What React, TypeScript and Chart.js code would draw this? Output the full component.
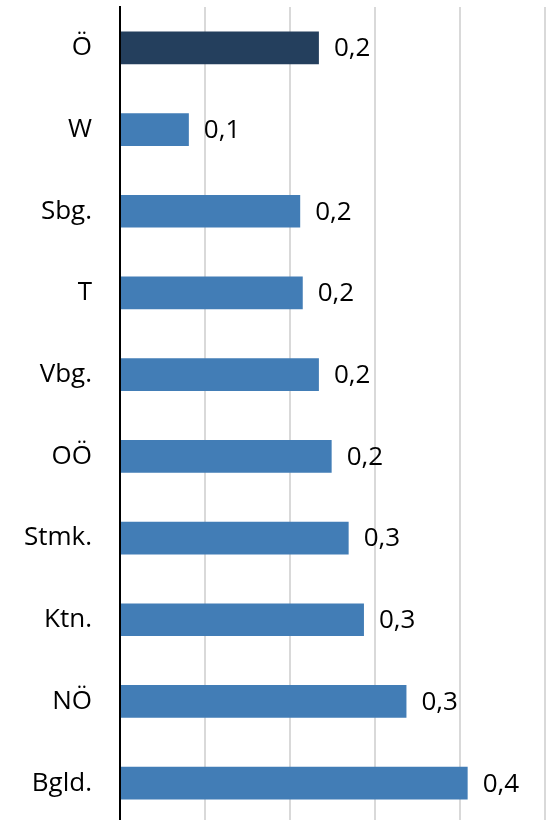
import React, { useEffect, useRef } from "react";
import { Chart, registerables } from "chart.js";

Chart.register(...registerables);

const categories = ["Ö", "W", "Sbg.", "T", "Vbg.", "OÖ", "Stmk.", "Ktn.", "NÖ", "Bgld."];
const values = [0.234, 0.081, 0.212, 0.215, 0.234, 0.249, 0.269, 0.287, 0.337, 0.409];
const barColors = ["#243F5D", "#427DB6", "#427DB6", "#427DB6", "#427DB6", "#427DB6", "#427DB6", "#427DB6", "#427DB6", "#427DB6"];
const axisMin = 0;
const axisMax = 0.5;
const axisStep = 0.1;

const FONT = "'Open Sans', 'DejaVu Sans', sans-serif";

const valueLabels = {
  id: "valueLabels",
  afterDatasetsDraw(chart: any) {
    const ctx = chart.ctx;
    const meta = chart.getDatasetMeta(0);
    ctx.save();
    ctx.font = `26px ${FONT}`;
    ctx.fillStyle = "#000000";
    ctx.textAlign = "left";
    ctx.textBaseline = "middle";
    meta.data.forEach((el: any, i: number) => {
      const v = values[i];
      const txt = v.toFixed(1).replace(".", ",");
      ctx.fillText(txt, el.x + 15, el.y + 1);
    });
    ctx.restore();
  },
};

export default function App() {
  const ref = useRef<HTMLCanvasElement | null>(null);
  useEffect(() => {
    if (!ref.current) return;
    const chart = new Chart(ref.current, {
      type: "bar",
      data: {
        labels: categories,
        datasets: [
          {
            data: values,
            backgroundColor: barColors,
            borderWidth: 0,
            categoryPercentage: 1,
            barPercentage: 0.4,
          },
        ],
      },
      options: {
        indexAxis: "y",
        animation: false,
        responsive: false,
        maintainAspectRatio: false,
        layout: { padding: { top: 7, right: 7, bottom: 6, left: 0 } },
        plugins: { legend: { display: false }, tooltip: { enabled: false } },
        scales: {
          x: {
            min: axisMin,
            max: axisMax,
            ticks: { display: false, stepSize: axisStep },
            grid: { color: "#D9D9D9", lineWidth: 2, drawTicks: false },
            border: { display: false },
          },
          y: {
            afterFit(scale: any) {
              scale.width = 120;
              scale.paddingTop = 0;
              scale.paddingBottom = 0;
            },
            ticks: {
              color: "#000000",
              font: { family: FONT, size: 26 },
              padding: 28,
            },
            grid: { display: false, drawTicks: false },
            border: { display: true, color: "#000000", width: 2 },
          },
        },
      },
      plugins: [valueLabels],
    });
    return () => chart.destroy();
  }, []);
  return (
    <div style={{ position: "absolute", left: 0, top: 0, width: 552, height: 830, background: "#fff" }}>
      <canvas ref={ref} width={552} height={830} style={{ display: "block" }} />
    </div>
  );
}
